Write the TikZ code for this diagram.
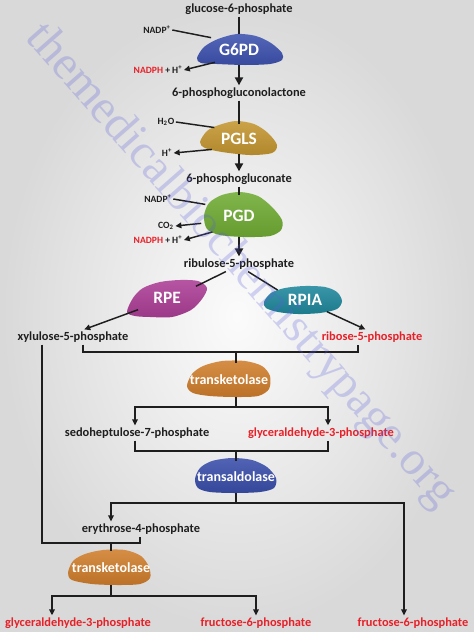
\documentclass[tikz,border=0pt]{standalone}
\usepackage{fontspec}
\setmainfont{Carlito}
\newfontfamily\wmfont{Liberation Serif}
\usepackage{xcolor}
\usepackage{tikz}
\usetikzlibrary{arrows.meta,positioning,calc,shapes.geometric}
\definecolor{ink}{RGB}{30,30,30}
\definecolor{nred}{RGB}{232,32,40}
\definecolor{g6pdc}{RGB}{62,82,175}
\definecolor{pglsc}{RGB}{196,150,48}
\definecolor{pgdc}{RGB}{112,172,52}
\definecolor{rpec}{RGB}{172,62,150}
\definecolor{rpiac}{RGB}{30,136,156}
\definecolor{tktc}{RGB}{208,126,44}
\definecolor{talc}{RGB}{58,78,170}
\definecolor{wmc}{RGB}{90,95,220}
\tikzset{
  met/.style  ={font=\fontsize{9.3}{11}\selectfont\bfseries, text=ink, inner sep=1.5pt},
  metr/.style ={met, text=nred},
  cof/.style  ={font=\fontsize{7.2}{8.5}\selectfont\bfseries, text=ink, inner sep=1pt},
  enz/.style  ={ellipse, inner sep=0pt, text=white, font=\fontsize{13}{15}\selectfont\bfseries},
  enzs/.style ={enz, font=\fontsize{10.5}{12}\selectfont\bfseries},
  mline/.style={line width=1.6pt, draw=ink},
  marr/.style ={mline, -{Triangle[length=6pt, width=6pt]}},
  sline/.style={line width=1.1pt, draw=ink},
  sarr/.style ={sline, -{Triangle[length=4.5pt, width=4.2pt]}},
}
\newcommand{\enzblob}[2]{\shade[top color=#1!88!white, bottom color=#1!90!black]
  plot[smooth cycle] coordinates {#2};}

\begin{document}
\begin{tikzpicture}[x=0.75pt, y=-0.75pt]

  % ---- page and background ----
  \useasboundingbox (0,0) rectangle (474,632);
  \shade[inner color=white!97!gray, outer color=gray!30] (0,0) rectangle (474,632);

  % ---- enzyme blobs ----
  \enzblob{g6pdc}{(197,58) (204,47) (218,39) (237,34) (256,36) (271,43) (282,53) (282,60) (270,64) (245,65) (217,64) (201,63)}
  \enzblob{pglsc}{(200,142) (207,131) (219,125) (236,121) (254,124) (268,133) (277,145) (272,153) (250,155) (222,152) (205,148)}
  \enzblob{pgdc}{(204,216) (209,203) (222,195) (240,192) (258,196) (272,207) (282,220) (281,230) (270,236) (245,237) (220,235) (207,229)}
  \enzblob{rpec}{(127,312) (133,298) (143,288) (160,282) (180,280) (198,281) (207,288) (202,299) (191,310) (172,317) (150,317) (135,316)}
  \enzblob{rpiac}{(264,302) (271,293) (285,288) (305,286) (325,287) (337,292) (342,301) (337,309) (320,313) (298,314) (278,312) (266,308)}
  \enzblob{tktc}{(187,386) (192,374) (203,366) (222,361) (245,361) (262,366) (270,376) (269,389) (258,396) (235,397) (210,396) (193,393)}
  \enzblob{talc}{(195,479) (200,468) (212,461) (232,458) (252,460) (267,467) (276,478) (274,488) (260,492) (235,493) (210,492) (198,488)}
  \enzblob{tktc}{(68,573) (73,561) (85,554) (103,550) (125,550) (141,556) (149,567) (150,578) (140,584) (118,585) (92,584) (72,580)}

  % ---- oxidative branch ----
  \node[met] (g6p) at (239,9) {glucose-6-phosphate};
  \node[enz, minimum width=66pt, minimum height=22.5pt] (g6pd) at (239,49.5) {G6PD};
  \node[met] (pgl) at (239,93) {6-phosphogluconolactone};
  \node[enz, minimum width=55.5pt, minimum height=22.5pt] (pgls) at (239,139) {PGLS};
  \node[met] (pgn) at (239,179) {6-phosphogluconate};
  \node[enz, minimum width=60pt, minimum height=31.5pt] (pgd) at (239,216) {PGD};
  \node[met] (ru5p) at (239,264) {ribulose-5-phosphate};
  \draw[mline] (g6p) -- (g6pd);
  \draw[marr] (g6pd) -- (pgl);
  \draw[mline] (pgl) -- (pgls);
  \draw[marr] (pgls) -- (pgn);
  \draw[mline] (pgn) -- (pgd);
  \draw[marr] (pgd) -- (ru5p);

  % cofactors
  \node[cof] (nadpa) at (157,30) {NADP\textsuperscript{+}};
  \node[cof] (nadpha) at (158,70) {\textcolor{nred}{NADPH} + H\textsuperscript{+}};
  \node[cof] (wat) at (166,122) {H\textsubscript{2}O};
  \node[cof] (hpa) at (167,153) {H\textsuperscript{+}};
  \node[cof] (nadpb) at (158,199) {NADP\textsuperscript{+}};
  \node[cof] (co2) at (166,226) {CO\textsubscript{2}};
  \node[cof] (nadphb) at (158,240) {\textcolor{nred}{NADPH} + H\textsuperscript{+}};
  \draw[sline] (nadpa.east) -- (g6pd.157);
  \draw[sarr] (g6pd.208) -- (nadpha.east);
  \draw[sline] (wat.east) -- (pgls.155);
  \draw[sarr] (pgls.201) -- (hpa.east);
  \draw[sline] (nadpb.east) -- (pgd.161);
  \draw[sarr] (pgd.191) -- (co2.east);
  \draw[sarr] (pgd.211) -- (nadphb.east);

  % ---- isomerase / epimerase ----
  \node[enz, minimum width=58.5pt, minimum height=25.5pt] (rpe) at (167,298) {RPE};
  \node[enz, minimum width=57pt, minimum height=21pt] (rpia) at (305,300) {RPIA};
  \node[met] (xu5p) at (73,337) {xylulose-5-phosphate};
  \node[metr] (r5p) at (372,337) {ribose-5-phosphate};
  \draw[sline] (ru5p.210) -- (rpe.22);
  \draw[sline] (ru5p.320) -- (rpia.160);
  \draw[sarr] (rpe.202) -- (xu5p.34);
  \draw[sarr] (rpia.332) -- (r5p.131);

  % ---- non-oxidative branch ----
  \node[enzs, minimum width=63pt, minimum height=25.5pt] (tkta) at (229,380) {transketolase};
  \node[met] (s7p) at (137,433) {sedoheptulose-7-phosphate};
  \node[metr] (gap) at (321,433) {glyceraldehyde-3-phosphate};
  \node[enzs, minimum width=61.5pt, minimum height=24pt] (tal) at (236,477) {transaldolase};
  \node[met] (e4p) at (141,529) {erythrose-4-phosphate};
  \node[enzs, minimum width=61.5pt, minimum height=25.5pt] (tktb) at (111,568) {transketolase};
  \node[metr] (gapb) at (78,623) {glyceraldehyde-3-phosphate};
  \node[metr] (f6pa) at (256,623) {fructose-6-phosphate};
  \node[metr] (f6pb) at (413,623) {fructose-6-phosphate};

  \coordinate (k1l) at (83,352);  \coordinate (k1m) at (236,352); \coordinate (k1r) at (358,352);
  \coordinate (k2l) at (135,407); \coordinate (k2m) at (236,407); \coordinate (k2r) at (328,407);
  \coordinate (k3l) at (135,451); \coordinate (k3m) at (236,451); \coordinate (k3r) at (328,451);
  \coordinate (k4l) at (111,503); \coordinate (k4m) at (236,503); \coordinate (k4r) at (404,503);
  \coordinate (k5l) at (42,543);  \coordinate (k5m) at (111,543); \coordinate (k5r) at (140,543);
  \coordinate (k6l) at (52,596);  \coordinate (k6m) at (111,596); \coordinate (k6r) at (256,596);

  \draw[sline] (xu5p.south -| k1l) -- (k1l) -- (k1r) -- (r5p.south -| k1r);
  \draw[sline] (k1m) -- (k1m |- tkta.north);
  \draw[sline] (k2m |- tkta.south) -- (k2m);
  \draw[sarr] (k2m) -- (k2l) -- (s7p.north -| k2l);
  \draw[sarr] (k2m) -- (k2r) -- (gap.north -| k2r);
  \draw[sline] (s7p.south -| k3l) -- (k3l) -- (k3r) -- (gap.south -| k3r);
  \draw[sline] (k3m) -- (tal);
  \draw[sline] (tal) -- (k4m);
  \draw[sarr] (k4m) -- (k4l) -- (e4p.north -| k4l);
  \draw[sarr] (k4m) -- (k4r) -- (f6pb.north -| k4r);
  \draw[sline] (xu5p.south -| k5l) -- (k5l) -- (k5r) -- (e4p.south -| k5r);
  \draw[sline] (k5m) -- (tktb);
  \draw[sline] (tktb) -- (k6m);
  \draw[sarr] (k6m) -- (k6l) -- (gapb.north -| k6l);
  \draw[sarr] (k6m) -- (k6r) -- (f6pa.north -| k6r);

  % ---- site watermark ----
  \begin{scope}
    \clip (0,0) rectangle (474,632);
    \node[font=\wmfont\fontsize{36}{40}\selectfont, text=wmc, opacity=0.26, rotate=-48.7] (wm) at (240,266) {themedicalbiochemistrypage.org};
  \end{scope}
\end{tikzpicture}
\end{document}
